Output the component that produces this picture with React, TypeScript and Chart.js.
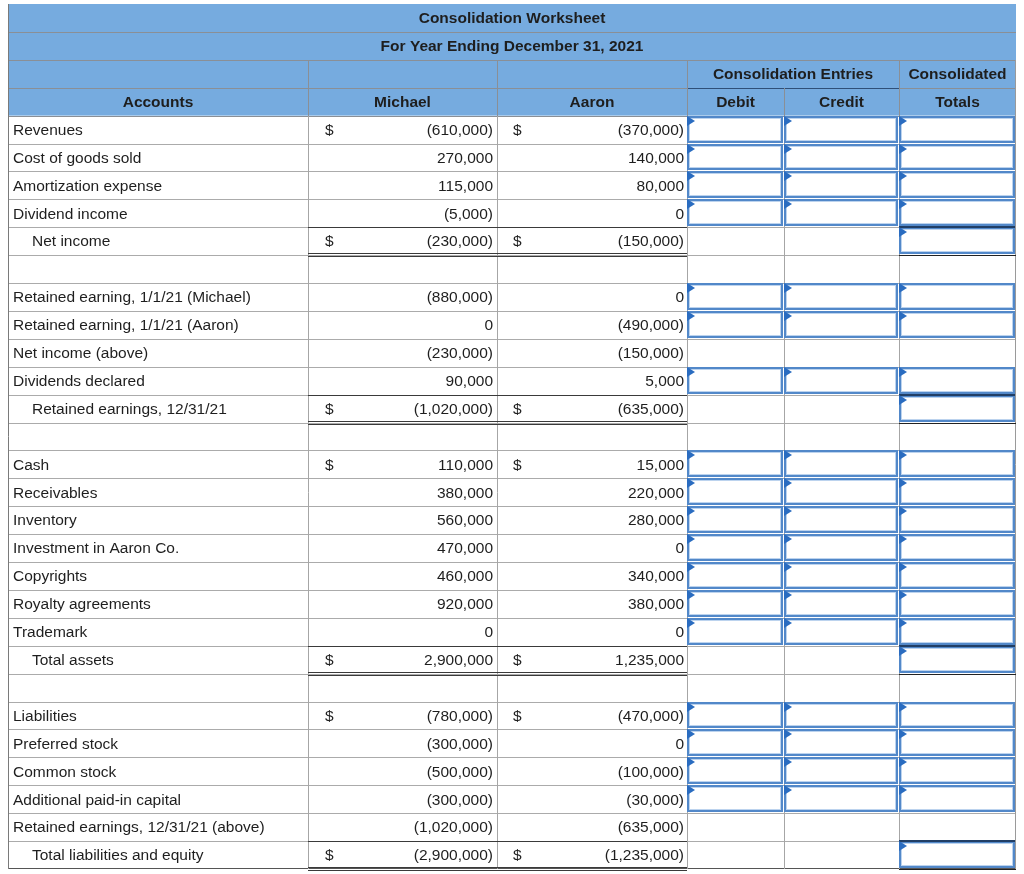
import React, { useEffect, useRef } from "react";
import { Chart, registerables } from "chart.js";

Chart.register(...registerables);

// ---------- data ----------
const title = "Consolidation Worksheet";
const subtitle = "For Year Ending December 31, 2021";
const groupHeaders = ["Consolidation Entries", "Consolidated"];
const columnHeaders = ["Accounts", "Michael", "Aaron", "Debit", "Credit", "Totals"];

const accounts = [
  "Revenues",
  "Cost of goods sold",
  "Amortization expense",
  "Dividend income",
  "Net income",
  "",
  "Retained earning, 1/1/21 (Michael)",
  "Retained earning, 1/1/21 (Aaron)",
  "Net income (above)",
  "Dividends declared",
  "Retained earnings, 12/31/21",
  "",
  "Cash",
  "Receivables",
  "Inventory",
  "Investment in Aaron Co.",
  "Copyrights",
  "Royalty agreements",
  "Trademark",
  "Total assets",
  "",
  "Liabilities",
  "Preferred stock",
  "Common stock",
  "Additional paid-in capital",
  "Retained earnings, 12/31/21 (above)",
  "Total liabilities and equity",
];

const michaelValues: (number | null)[] = [
  -610000, 270000, 115000, -5000, -230000,
  null,
  -880000, 0, -230000, 90000, -1020000,
  null,
  110000, 380000, 560000, 470000, 460000, 920000, 0, 2900000,
  null,
  -780000, -300000, -500000, -300000, -1020000, -2900000,
];

const aaronValues: (number | null)[] = [
  -370000, 140000, 80000, 0, -150000,
  null,
  0, -490000, -150000, 5000, -635000,
  null,
  15000, 220000, 280000, 0, 340000, 380000, 0, 1235000,
  null,
  -470000, 0, -100000, -30000, -635000, -1235000,
];

const dollarRows = [
  true, false, false, false, true,
  false,
  false, false, false, false, true,
  false,
  true, false, false, false, false, false, false, true,
  false,
  true, false, false, false, false, true,
];

// input: debit/credit/total boxes, total: totals box only, plain: nothing, blank: spacer
const rowKinds = [
  "input", "input", "input", "input", "total",
  "blank",
  "input", "input", "plain", "input", "total",
  "blank",
  "input", "input", "input", "input", "input", "input", "input", "total",
  "blank",
  "input", "input", "input", "input", "plain", "total",
];

// ---------- layout (not data) ----------
const HEADER_ROWS = 4;
const TOTAL_ROWS = HEADER_ROWS + accounts.length; // 31
const EDGES = [8, 308, 497, 687, 784, 899, 1016];
const BLUE = "#76abdf";
const FONT = "'Liberation Sans', Arial, Helvetica, sans-serif";

function fmt(v: number | null): string {
  if (v === null) return "";
  const s = String(Math.abs(v)).replace(/\B(?=(\d{3})+(?!\d))/g, ",");
  return v < 0 ? `(${s})` : s;
}

const tablePlugin = {
  id: "worksheetTable",
  afterDraw(chart: any) {
    const ctx: CanvasRenderingContext2D = chart.ctx;
    const xs = chart.scales.x;
    const ys = chart.scales.y;
    const X = (v: number) => xs.getPixelForValue(v);
    const Y = (r: number) => ys.getPixelForValue(r);
    const crisp = (p: number) => Math.round(p) + 0.5;
    const L = X(EDGES[0]);
    const R = X(EDGES[6]);

    const hline = (x0: number, x1: number, yy: number, color: string, w = 1) => {
      ctx.beginPath();
      ctx.strokeStyle = color;
      ctx.lineWidth = w;
      const py = w % 2 === 1 ? crisp(yy) : Math.round(yy);
      ctx.moveTo(Math.round(x0), py);
      ctx.lineTo(Math.round(x1), py);
      ctx.stroke();
    };
    const vline = (xx: number, y0: number, y1: number, color: string, w = 1) => {
      ctx.beginPath();
      ctx.strokeStyle = color;
      ctx.lineWidth = w;
      const px = crisp(xx);
      ctx.moveTo(px, Math.round(y0));
      ctx.lineTo(px, Math.round(y1));
      ctx.stroke();
    };

    ctx.save();
    // header background
    ctx.fillStyle = BLUE;
    ctx.fillRect(L, Y(0), R - L, Y(HEADER_ROWS) - Y(0));

    // horizontal grid lines
    for (let k = 1; k < TOTAL_ROWS; k++) {
      hline(L, R, Y(k), k <= HEADER_ROWS ? "#8a8f96" : "#ababab");
    }
    hline(L, R, Y(TOTAL_ROWS) - 1, "#555");
    // underline of "Consolidation Entries"
    hline(X(EDGES[3]), X(EDGES[5]), Y(3), "#2f4f78");

    // vertical lines - header
    [EDGES[1], EDGES[2], EDGES[3], EDGES[5]].forEach((e) => vline(X(e), Y(2), Y(4), "#8a8f96"));
    vline(X(EDGES[4]), Y(3), Y(4), "#8a8f96");
    // vertical lines - body
    [EDGES[1], EDGES[2], EDGES[3], EDGES[4], EDGES[5]].forEach((e) =>
      vline(X(e), Y(HEADER_ROWS), Y(TOTAL_ROWS), "#a6a6a6")
    );
    vline(L, Y(0), Y(TOTAL_ROWS), "#7a7a7a");
    vline(R - 1, Y(2), Y(TOTAL_ROWS), "#9a9a9a");

    // header texts
    ctx.fillStyle = "#1e1e1e";
    ctx.font = `bold 15.5px ${FONT}`;
    ctx.textBaseline = "middle";
    ctx.textAlign = "center";
    const mid = (r: number) => (Y(r) + Y(r + 1)) / 2 + 1;
    ctx.fillText(title, (L + R) / 2, mid(0));
    ctx.fillText(subtitle, (L + R) / 2, mid(1));
    ctx.fillText(groupHeaders[0], (X(EDGES[3]) + X(EDGES[5])) / 2, mid(2));
    ctx.fillText(groupHeaders[1], (X(EDGES[5]) + X(EDGES[6])) / 2, mid(2));
    columnHeaders.forEach((h, i) => {
      ctx.fillText(h, (X(EDGES[i]) + X(EDGES[i + 1])) / 2, mid(3));
    });

    // body texts
    ctx.font = `15.5px ${FONT}`;
    accounts.forEach((name, i) => {
      const r = HEADER_ROWS + i;
      const cy = mid(r);
      const total = rowKinds[i] === "total";
      ctx.fillStyle = "#1e1e1e";
      ctx.textAlign = "left";
      if (name) ctx.fillText(name, X(EDGES[0]) + (total ? 24 : 5), cy);
      if (dollarRows[i]) {
        ctx.fillText("$", X(EDGES[1]) + 17, cy);
        ctx.fillText("$", X(EDGES[2]) + 16, cy);
      }
      ctx.textAlign = "right";
      ctx.fillText(fmt(michaelValues[i]), X(EDGES[2]) - 4, cy);
      ctx.fillText(fmt(aaronValues[i]), X(EDGES[3]) - 3, cy);
    });

    // input boxes
    const drawBox = (c: number, r: number, dark: boolean) => {
      const x0 = Math.round(X(EDGES[c])) + 1;
      const x1 = Math.round(X(EDGES[c + 1])) - 1;
      const y0 = Math.round(Y(r)) + 1;
      const y1 = Math.round(Y(r + 1)) - 1;
      ctx.fillStyle = "#ffffff";
      ctx.fillRect(x0, y0, x1 - x0, y1 - y0);
      ctx.lineWidth = 2;
      ctx.strokeStyle = "#5288c9";
      ctx.strokeRect(x0, y0, x1 - x0 - 1, y1 - y0 - 1);
      ctx.lineWidth = 1;
      ctx.strokeStyle = "#bcd3ee";
      ctx.strokeRect(x0 + 1.5, y0 + 1.5, x1 - x0 - 4, y1 - y0 - 4);
      if (dark) {
        ctx.fillStyle = "#213f66";
        ctx.fillRect(x0 - 1, y0 - 2, x1 - x0 + 1, 2);
      }
    };
    const drawFlag = (c: number, r: number) => {
      const x0 = Math.round(X(EDGES[c])) + 1;
      const y0 = Math.round(Y(r)) + 1;
      ctx.beginPath();
      ctx.fillStyle = "#2a6cc0";
      ctx.moveTo(x0 - 1, y0 - 1);
      ctx.lineTo(x0 + 7, y0 + 4);
      ctx.lineTo(x0 - 1, y0 + 9);
      ctx.closePath();
      ctx.fill();
    };
    rowKinds.forEach((k, i) => {
      const r = HEADER_ROWS + i;
      if (k === "input") {
        [3, 4, 5].forEach((c) => drawBox(c, r, false));
        [3, 4, 5].forEach((c) => drawFlag(c, r));
      } else if (k === "total") {
        drawBox(5, r, true);
        drawFlag(5, r);
        // accounting lines: single above, double below
        hline(X(EDGES[1]), X(EDGES[3]), Y(r), "#3a3a3a");
        hline(X(EDGES[1]), X(EDGES[3]), Y(r + 1) - 2, "#3a3a3a");
        hline(X(EDGES[1]), X(EDGES[3]), Y(r + 1) + 1, "#3a3a3a");
        hline(X(EDGES[5]), R, Y(r + 1), "#222");
      }
    });
    ctx.restore();
  },
};

export default function App() {
  const ref = useRef<HTMLCanvasElement | null>(null);
  useEffect(() => {
    if (!ref.current) return;
    const chart = new Chart(ref.current, {
      type: "scatter",
      data: { datasets: [] },
      options: {
        animation: false,
        responsive: false,
        devicePixelRatio: 1,
        layout: { padding: { top: 4, bottom: 5, left: 0, right: 0 } },
        plugins: { legend: { display: false }, tooltip: { enabled: false } },
        scales: {
          x: { type: "linear", min: 0, max: 1024, display: false },
          y: { type: "linear", min: 0, max: TOTAL_ROWS, reverse: true, display: false },
        },
      },
      plugins: [tablePlugin],
    });
    return () => chart.destroy();
  }, []);
  return (
    <div style={{ position: "absolute", left: 0, top: 0, width: 1024, height: 874 }}>
      <canvas ref={ref} width={1024} height={874} style={{ display: "block" }} />
    </div>
  );
}
